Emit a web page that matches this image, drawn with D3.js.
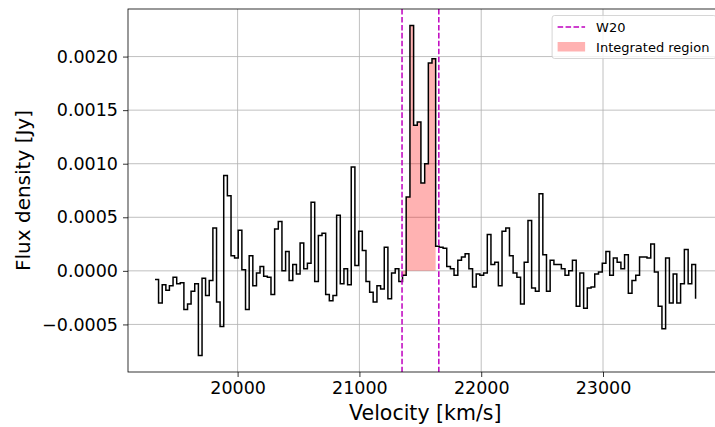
<!DOCTYPE html>
<html>
<head>
<meta charset="utf-8">
<script src="https://cdn.jsdelivr.net/npm/d3@7"></script>
<style>
  body { margin: 0; background: #fff; }
  svg { display: block; }
  text { font-family: "DejaVu Sans", sans-serif; fill: #000; }
</style>
</head>
<body>
<svg id="chart" width="715" height="427"></svg>
<script>
// Channel velocities (km/s)
const velocity = [
  19322, 19351, 19381, 19411, 19440, 19470, 19500, 19529, 19559, 19589,
  19618, 19648, 19678, 19708, 19737, 19767, 19797, 19827, 19856, 19886,
  19916, 19946, 19975, 20005, 20035, 20065, 20095, 20125, 20155, 20184,
  20214, 20244, 20274, 20304, 20334, 20364, 20394, 20423, 20453, 20483,
  20513, 20543, 20573, 20603, 20633, 20663, 20693, 20723, 20753, 20783,
  20813, 20843, 20873, 20903, 20933, 20963, 20994, 21024, 21054, 21084,
  21113, 21144, 21174, 21204, 21234, 21264, 21294, 21324, 21354, 21384,
  21415, 21445, 21475, 21505, 21536, 21566, 21596, 21626, 21656, 21687,
  21717, 21747, 21777, 21808, 21838, 21868, 21899, 21929, 21959, 21989,
  22020, 22050, 22080, 22111, 22141, 22171, 22202, 22232, 22262, 22293,
  22323, 22353, 22384, 22414, 22445, 22475, 22506, 22536, 22566, 22597,
  22627, 22658, 22688, 22719, 22749, 22780, 22810, 22841, 22871, 22902,
  22932, 22963, 22994, 23024, 23055, 23085, 23116, 23147, 23177, 23208,
  23238, 23269, 23300, 23330, 23361, 23392, 23422, 23453, 23484, 23514,
  23545, 23576, 23606, 23637, 23668, 23699, 23729, 23760
];

// Flux density per channel (Jy)
const flux = [
  -0.00008, -0.00030, -0.00013, -0.00018, -0.00014, -0.00006, -0.00012, -0.00011, -0.00036, -0.00031,
  -0.00019, -0.00012, -0.00079, -0.00007, -0.00023, -0.00009, 0.00040, -0.00029, -0.00052, 0.00089,
  0.00070, 0.00014, 0.00012, 0.00038, 0.00001, -0.00036, 0.00014, -0.00014, -0.00002, 0.00004,
  -0.00005, -0.00006, -0.00022, 0.00039, 0.00046, 0.00000, 0.00018, -0.00009, 0.00006, -0.00003,
  0.00026, 0.00002, 0.00007, 0.00064, -0.00010, 0.00033, 0.00035, -0.00022, -0.00028, -0.00023,
  0.00052, -0.00012, 0.00002, -0.00013, 0.00097, 0.00005, 0.00037, 0.00019, -0.00010, -0.00020,
  -0.00029, -0.00014, -0.00017, 0.00022, -0.00026, -0.00002, 0.00002, -0.00010, -0.00004, 0.00069,
  0.00229, 0.00136, 0.00139, 0.00082, 0.00100, 0.00194, 0.00198, 0.00023, 0.00022, 0.00021,
  0.00004, 0.00002, -0.00004, 0.00010, 0.00013, 0.00016, 0.00002, -0.00015, -0.00003, -0.00004,
  -0.00002, 0.00034, 0.00006, 0.00008, -0.00014, 0.00037, 0.00040, 0.00014, -0.00002, -0.00006,
  -0.00031, 0.00008, 0.00047, -0.00016, -0.00019, 0.00072, 0.00015, -0.00019, 0.00010, 0.00006,
  0.00006, 0.00002, -0.00004, 0.00000, 0.00010, -0.00033, -0.00002, -0.00035, -0.00016, -0.00015,
  -0.00003, -0.00001, 0.00007, 0.00018, -0.00004, 0.00012, 0.00008, 0.00002, 0.00015, -0.00021,
  -0.00009, -0.00004, 0.00013, 0.00013, 0.00012, 0.00025, -0.00001, -0.00033, -0.00054, 0.00012,
  -0.00030, -0.00003, -0.00030, -0.00012, 0.00020, -0.00012, 0.00006, -0.00026
];

// W20 velocity limits (km/s)
const w20 = [21350, 21652];

const xTicks = [20000, 21000, 22000, 23000];
const yTicks = [-0.0005, 0.0000, 0.0005, 0.0010, 0.0015, 0.0020];
const legendLabels = ["W20", "Integrated region"];

const svg = d3.select("#chart");
const plot = { left: 128, top: 9, width: 594.6, height: 363 };

// Axis limits with a 5% margin around the data
function padded(ext) {
  const r = ext[1] - ext[0];
  return [ext[0] - 0.05 * r, ext[1] + 0.05 * r];
}
const x = d3.scaleLinear()
  .domain(padded(d3.extent(velocity)))
  .range([plot.left, plot.left + plot.width]);
const y = d3.scaleLinear()
  .domain(padded(d3.extent(flux)))
  .range([plot.top + plot.height, plot.top]);

const series = velocity.map((v, i) => ({ v, f: flux[i] }));

// Grid
const grid = svg.append("g").attr("stroke", "#b0b0b0").attr("stroke-width", 0.8);
grid.selectAll(".gx").data(xTicks).join("line")
  .attr("x1", d => x(d)).attr("x2", d => x(d))
  .attr("y1", plot.top).attr("y2", plot.top + plot.height);
grid.selectAll(".gy").data(yTicks).join("line")
  .attr("x1", plot.left).attr("x2", plot.left + plot.width)
  .attr("y1", d => y(d)).attr("y2", d => y(d));

// Integrated region between the W20 limits
const inRegion = series.filter(d => d.v >= w20[0] && d.v <= w20[1]);
svg.append("path")
  .datum(inRegion)
  .attr("fill", "red")
  .attr("fill-opacity", 0.3)
  .attr("d", d3.area().curve(d3.curveStepAfter)
    .x(d => x(d.v)).y0(y(0)).y1(d => y(d.f)));

// Spectrum
svg.append("path")
  .datum(series)
  .attr("fill", "none")
  .attr("stroke", "#000")
  .attr("stroke-width", 1.5)
  .attr("d", d3.line().curve(d3.curveStepAfter).x(d => x(d.v)).y(d => y(d.f)));

// W20 markers
svg.selectAll(".w20").data(w20).join("line")
  .attr("x1", d => x(d)).attr("x2", d => x(d))
  .attr("y1", plot.top).attr("y2", plot.top + plot.height)
  .attr("stroke", "#bf00bf").attr("stroke-width", 1.5)
  .attr("stroke-dasharray", "5.55,2.4");

// Axes
const fmtY = v => (v < 0 ? "\u2212" : "") + Math.abs(v).toFixed(4);
const xAxis = svg.append("g")
  .attr("transform", `translate(0,${plot.top + plot.height})`)
  .call(d3.axisBottom(x).tickValues(xTicks).tickFormat(d3.format("d")).tickSizeInner(5).tickSizeOuter(0).tickPadding(3.5));
const yAxis = svg.append("g")
  .attr("transform", `translate(${plot.left},0)`)
  .call(d3.axisLeft(y).tickValues(yTicks).tickFormat(fmtY).tickSizeInner(5).tickSizeOuter(0).tickPadding(5));
[xAxis, yAxis].forEach(a => {
  a.select(".domain").remove();
  a.selectAll(".tick line").attr("stroke", "#000").attr("stroke-width", 0.8);
  a.selectAll(".tick text").attr("font-size", 17.5).attr("font-family", "DejaVu Sans").attr("fill", "#000");
});
xAxis.selectAll(".tick text").attr("dy", "0.76em");

// Frame
svg.append("rect")
  .attr("x", plot.left).attr("y", plot.top)
  .attr("width", plot.width).attr("height", plot.height)
  .attr("fill", "none").attr("stroke", "#000").attr("stroke-width", 0.8);

// Axis titles
svg.append("text")
  .attr("x", plot.left + plot.width / 2).attr("y", 420)
  .attr("text-anchor", "middle").attr("font-size", 20.5)
  .text("Velocity [km/s]");
svg.append("text")
  .attr("transform", `translate(22.5,${plot.top + plot.height / 2}) rotate(-90)`)
  .attr("text-anchor", "middle").attr("dominant-baseline", "central").attr("font-size", 20)
  .text("Flux density [Jy]");

// Legend
const lgRight = plot.left + plot.width - 6.5;
const lgW = 164, lgH = 43;
const lg = svg.append("g").attr("transform", `translate(${lgRight - lgW},${plot.top + 6.5})`);
lg.append("rect")
  .attr("width", lgW).attr("height", lgH).attr("rx", 2.5)
  .attr("fill", "#fff").attr("fill-opacity", 0.8)
  .attr("stroke", "#cccccc").attr("stroke-width", 0.8);
lg.append("line")
  .attr("x1", 5.5).attr("x2", 33).attr("y1", 11.5).attr("y2", 11.5)
  .attr("stroke", "#bf00bf").attr("stroke-width", 1.5).attr("stroke-dasharray", "5.55,2.4");
lg.append("rect")
  .attr("x", 5.5).attr("y", 26.5).attr("width", 27.5).attr("height", 9.5)
  .attr("fill", "red").attr("fill-opacity", 0.3);
lg.selectAll(".lt").data(legendLabels).join("text")
  .attr("x", 44).attr("y", (d, i) => 11.5 + i * 20)
  .attr("dominant-baseline", "central").attr("font-size", 13)
  .text(d => d);
</script>
</body>
</html>
